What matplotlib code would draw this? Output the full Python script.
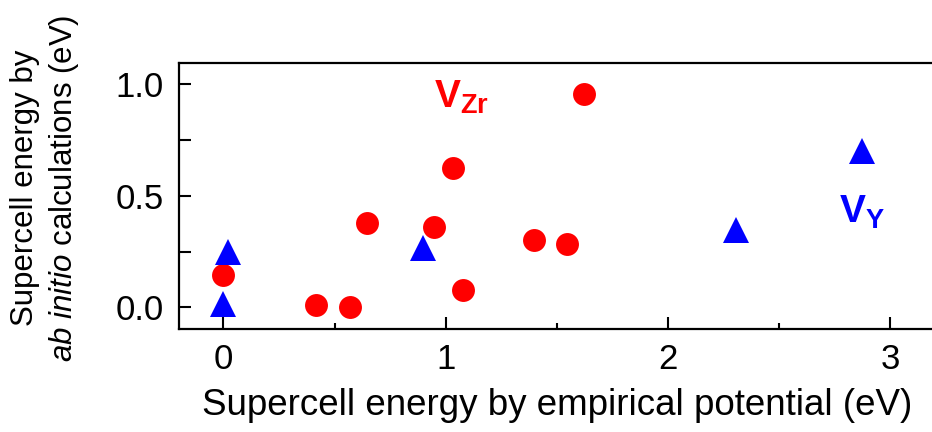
import matplotlib
matplotlib.use('Agg')
import matplotlib.pyplot as plt
from matplotlib.ticker import MultipleLocator

plt.rcParams['font.family'] = 'Liberation Sans'
plt.rcParams['mathtext.fontset'] = 'custom'
plt.rcParams['mathtext.rm'] = 'Liberation Sans'
plt.rcParams['mathtext.it'] = 'Liberation Sans:italic'
plt.rcParams['mathtext.bf'] = 'Liberation Sans:bold'

# V_Zr vacancies (red circles)
zr_empirical = [0.0, 0.417, 0.57, 0.645, 0.946, 1.035, 1.08, 1.40, 1.545, 1.623]
zr_abinitio = [0.143, 0.01, 0.003, 0.378, 0.361, 0.623, 0.078, 0.30, 0.282, 0.956]

# V_Y vacancies (blue triangles)
y_empirical = [0.0, 0.022, 0.90, 2.306, 2.875]
y_abinitio = [0.016, 0.248, 0.265, 0.347, 0.70]

fig = plt.figure(figsize=(9.32, 4.32), dpi=100)
ax = fig.add_axes([179 / 932, 103 / 432, 756 / 932, 266.3 / 432])

ax.plot(zr_empirical, zr_abinitio, 'o', color='#ff0000', markersize=16.5, markeredgewidth=0)
ax.plot(y_empirical, y_abinitio, '^', color='#0000ff', markersize=19, markeredgewidth=0)

ax.text(0.95, 0.895, r'$\mathbf{V_{Zr}}$', color='#ff0000', fontsize=28,
        ha='left', va='baseline')
ax.text(2.77, 0.38, r'$\mathbf{V_{Y}}$', color='#0000ff', fontsize=28,
        ha='left', va='baseline')

ax.set_xlim(-0.2, 3.203)
ax.set_ylim(-0.097, 1.097)

ax.xaxis.set_major_locator(MultipleLocator(1))
ax.xaxis.set_minor_locator(MultipleLocator(0.5))
ax.yaxis.set_major_locator(MultipleLocator(0.5))
ax.yaxis.set_minor_locator(MultipleLocator(0.25))
ax.yaxis.set_major_formatter(plt.FormatStrFormatter('%.1f'))

ax.tick_params(which='both', direction='in', width=1.5, labelsize=25)
ax.tick_params(axis='x', which='major', length=9, pad=10)
ax.tick_params(axis='x', which='minor', length=4.5)
ax.tick_params(axis='y', which='both', length=8.5, pad=11)

for side in ['left', 'bottom', 'top']:
    ax.spines[side].set_linewidth(1.6)
ax.spines['right'].set_visible(False)

ax.set_xlabel('Supercell energy by empirical potential (eV)', fontsize=26.5, va='top')
ax.xaxis.set_label_coords(0.5, -0.222)
ax.set_ylabel('Supercell energy by\n' + r'$\mathit{ab\ initio}$ calculations (eV)',
              fontsize=22.5, linespacing=1.25)
ax.yaxis.set_label_coords(-0.13, 0.53)

fig.savefig('out.png', dpi=100)
